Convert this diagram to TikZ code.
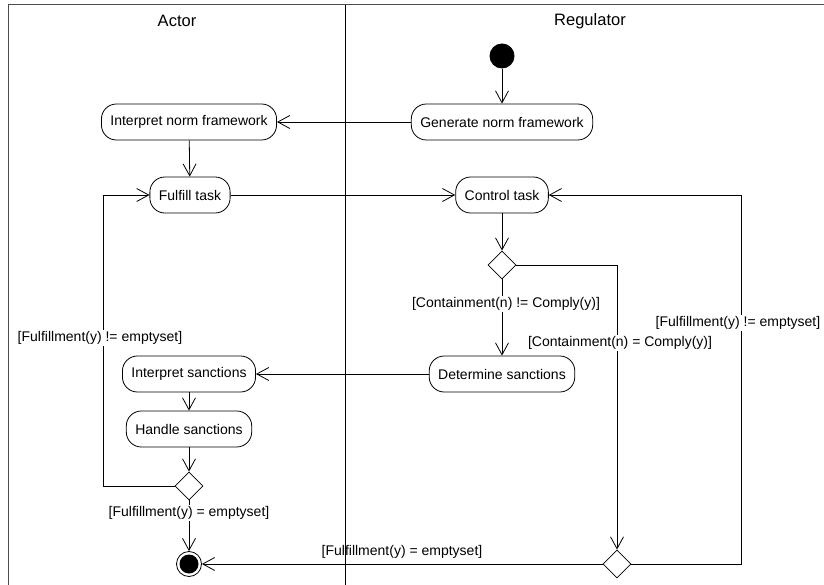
\documentclass[tikz,border=0pt]{standalone}
\usepackage{fontspec}
\setmainfont{Liberation Sans}
\usetikzlibrary{arrows.meta,shapes.geometric}
\begin{document}
\begin{tikzpicture}[x=1pt,y=-1pt,
  every node/.style={font=\fontsize{14}{16}\selectfont},
  lane/.style={draw=black!70,line width=1.3pt},
  lanetitle/.style={font=\fontsize{16.5}{18}\selectfont},
  action/.style={draw,line width=0.8pt,rectangle,rounded corners=15pt,minimum height=36pt,inner xsep=9pt},
  decision/.style={draw,line width=0.8pt,diamond,minimum width=28pt,minimum height=28pt,inner sep=0pt},
  initial/.style={circle,fill=black,minimum size=25pt,inner sep=0pt},
  final/.style={circle,draw,line width=0.8pt,minimum size=25pt,inner sep=0pt},
  flow/.style={line width=0.8pt,-{Straight Barb[length=12pt,width=13pt,line width=0.8pt]}},
  guard/.style={fill=white,inner sep=1pt}]
\useasboundingbox (0,0) rectangle (824,585);

% swimlanes
\draw[lane] (8.7,585) -- (8.7,4.7) -- (824,4.7);
\draw[lane,draw=black,line width=1pt] (345,4.7) -- (345,585);
\node[lanetitle] (actor) at (177,21) {Actor};
\node[lanetitle] (regulator) at (590,21) {Regulator};

% activity nodes
\node[initial] (start) at (502,56) {};
\node[action] (gen) at (502,122) {Generate norm framework};
\node[action] (inf) at (189,122) {Interpret norm framework};
\node[action] (ful) at (190,195) {Fulfill task};
\node[action] (ctl) at (502,195) {Control task};
\node[decision] (d1) at (502,265) {};
\node[action] (det) at (502,374) {Determine sanctions};
\node[action] (ins) at (189,374) {Interpret sanctions};
\node[action] (han) at (189,429) {Handle sanctions};
\node[decision] (d2) at (189,486) {};
\node[final] (endn) at (189,564) {};
\fill (endn.center) circle (9.5pt);
\node[decision] (d3) at (617,564) {};
\coordinate (loopL) at (103,486);
\coordinate (loopR) at (741,564);

% flows
\draw[flow] (start) -- (gen);
\draw[flow] (gen) -- (inf);
\draw[flow] (inf) -- (ful);
\draw[flow] (ful) -- (ctl);
\draw[flow] (ctl) -- (d1);
\draw[flow] (d1) -- (det);
\draw[flow] (d1.east) -| (d3.north);
\draw[flow] (det) -- (ins);
\draw[flow] (ins) -- (han);
\draw[flow] (han) -- (d2);
\draw[flow] (d2) -- (endn);
\draw[flow] (d2.west) -- (loopL) |- (ful.west);
\draw[flow] (d3.east) -- (loopR) |- (ctl.east);
\draw[flow] (d3.west) -- (endn.east);

% guards
\node[guard] (g1) at (506,304) {[Containment(n) != Comply(y)]};
\node[guard] (g2) at (620,343) {[Containment(n) = Comply(y)]};
\node[guard] (g3) at (738,323) {[Fulfillment(y) != emptyset]};
\node[guard] (g4) at (100,338) {[Fulfillment(y) != emptyset]};
\node[guard] (g5) at (189,513) {[Fulfillment(y) = emptyset]};
\node[inner sep=1pt] (g6) at (402,552) {[Fulfillment(y) = emptyset]};
\end{tikzpicture}
\end{document}
